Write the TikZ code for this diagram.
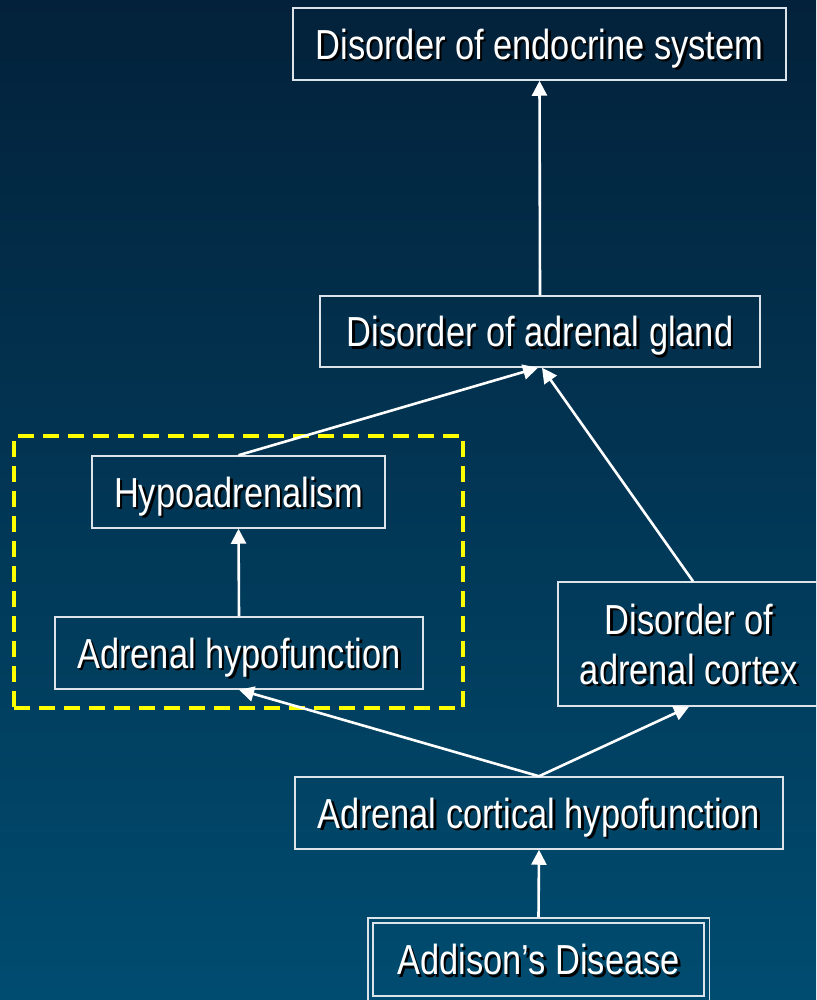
\documentclass[tikz,border=0pt]{standalone}
\usepackage{fontspec}
\setmainfont[FakeStretch=0.82]{Liberation Sans}
\usetikzlibrary{arrows.meta,fit}

\definecolor{bgtop}{HTML}{03213A}
\definecolor{bgbot}{HTML}{004C70}
\definecolor{frame}{HTML}{DCE4EA}
\definecolor{hilite}{HTML}{FFFF00}

% white text with a small black drop shadow
\newcommand\shd[1]{\leavevmode\rlap{\kern2.5pt\raisebox{-2.5pt}{\textcolor{black}{#1}}}#1}

\tikzset{
  box/.style={draw=frame, line width=1.5pt, inner sep=0pt, align=center,
    text=white, font=\fontsize{42}{50.4}\selectfont,
    text height=30.5pt, text depth=0pt},
  link/.style={draw=white, line width=2.6pt, -{Triangle[length=15pt,width=15pt]}},
  groupbox/.style={draw=hilite, line width=3.5pt, dash pattern=on 16pt off 9pt,
    inner sep=0pt},
}

\begin{document}
\begin{tikzpicture}[x=1pt,y=-1pt]
  \shade[top color=bgtop, bottom color=bgbot] (0,0) rectangle (816,1000);
  \useasboundingbox (0,0) rectangle (816,1000);

  % grouping frame
  \node[groupbox, minimum width=449pt, minimum height=272pt] (grp) at (238.5,572) {};

  % boxes
  \node[box, minimum width=493pt, minimum height=72pt] (endo) at (539.5,44) {\shd{Disorder of endocrine system}};
  \node[box, minimum width=440pt, minimum height=71pt] (gland) at (540,331.5) {\shd{Disorder of adrenal gland}};
  \node[box, minimum width=293pt, minimum height=72pt] (hypo) at (238.5,492) {\shd{Hypoadrenalism}};
  \node[box, minimum width=368pt, minimum height=72pt] (ahypo) at (239,653) {\shd{Adrenal hypofunction}};
  \node[box, minimum width=262pt, minimum height=124pt, text height=80.9pt] (cortex) at (689,644) {\shd{Disorder of}\\\shd{adrenal cortex}};
  \node[box, minimum width=488pt, minimum height=72pt] (cort) at (539,813) {\shd{Adrenal cortical hypofunction}};
  \node[box, minimum width=331pt, minimum height=73pt] (add) at (538.5,959.5) {\shd{Addison’s Disease}};
  \node[draw=frame, line width=1.5pt, fit=(add), inner sep=4.5pt] (addo) {};

  % connectors
  \draw[link] (addo.north) -- (cort.south);
  \draw[link] (cort.north) -- (ahypo.south);
  \draw[link] (cort.north) -- (cortex.south);
  \draw[link] (ahypo.north) -- (hypo.south);
  \draw[link] (hypo.north) -- ([xshift=-2pt]gland.south);
  \draw[link] ([xshift=4pt]cortex.north) -- ([xshift=2pt]gland.south);
  \draw[link] (gland.north) -- (endo.south);
\end{tikzpicture}
\end{document}
